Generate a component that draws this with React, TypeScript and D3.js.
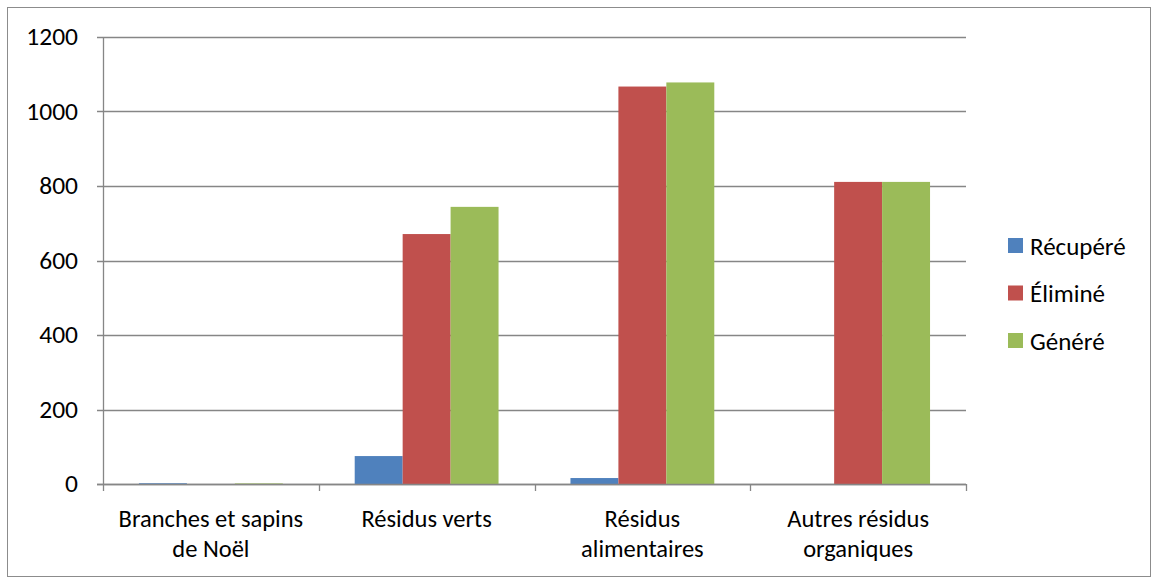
import React from 'react'
import * as d3 from 'd3'

const categories = [['Branches et sapins', 'de Noël'], ['Résidus verts'], ['Résidus', 'alimentaires'], ['Autres résidus', 'organiques']]
const seriesNames = ['Récupéré', 'Éliminé', 'Généré']
const recupere = [2, 75, 16, 0]
const elimine = [0, 671, 1067, 811]
const genere = [1.5, 744, 1078, 811]
const yTicks = [0, 200, 400, 600, 800, 1000, 1200]
const colors = ['#4f81bd', '#c0504d', '#9bbb59']

const W = 1152
const H = 578
const margin = { left: 103, right: 186, top: 37, bottom: 94 }
const font = 'Carlito, Calibri, "Open Sans", "Noto Sans", sans-serif'

export default function App() {
  const series = [recupere, elimine, genere]
  const x = d3.scaleBand<number>()
    .domain(d3.range(categories.length))
    .range([margin.left, W - margin.right])
  // Excel-style 150% gap width between groups
  const inner = d3.scaleBand<number>()
    .domain(d3.range(series.length))
    .range([0, x.bandwidth()])
    .paddingOuter(0.75)
  const y = d3.scaleLinear().domain([0, 1200]).range([H - margin.bottom, margin.top])
  const x0 = margin.left
  const x1 = W - margin.right
  const gridColor = '#868686'

  return (
    <svg width={W} height={H} style={{ position: 'absolute', left: 0, top: 0, background: '#fff' }} fontFamily={font}>
      <rect x={7.5} y={7.5} width={W - 9} height={H - 9} fill="#fff" stroke="#8c8c8c" />
      {yTicks.map(t => (
        <g key={t}>
          <line x1={x0 - 6} x2={x1} y1={Math.round(y(t)) + 0.5} y2={Math.round(y(t)) + 0.5} stroke={gridColor} strokeWidth={1.3} />
          <text x={78} y={y(t)} dy="0.33em" textAnchor="end" fontSize={25.5} fill="#000">{t}</text>
        </g>
      ))}
      {series.map((vals, si) =>
        vals.map((v, ci) => {
          const bx = (x(ci) ?? 0) + (inner(si) ?? 0)
          return (
            <rect key={`${si}-${ci}`} x={bx} y={y(v)} width={inner.bandwidth()} height={y(0) - y(v)} fill={colors[si]} />
          )
        })
      )}
      <line x1={x0 + 0.5} x2={x0 + 0.5} y1={y(1200)} y2={y(0)} stroke={gridColor} strokeWidth={1.3} />
      <line x1={x0 - 6} x2={x1} y1={Math.round(y(0)) + 0.5} y2={Math.round(y(0)) + 0.5} stroke={gridColor} strokeWidth={1.3} />
      {d3.range(categories.length + 1).map(i => {
        const tx = Math.round(x0 + i * x.step()) + 0.5
        return <line key={i} x1={tx} x2={tx} y1={y(0)} y2={y(0) + 7} stroke={gridColor} strokeWidth={1.3} />
      })}
      {categories.map((lines, ci) => (
        <text key={ci} textAnchor="middle" fontSize={24.5} fill="#000">
          {lines.map((l, li) => (
            <tspan key={li} x={(x(ci) ?? 0) + x.bandwidth() / 2} y={527 + li * 30}>{l}</tspan>
          ))}
        </text>
      ))}
      {seriesNames.map((n, i) => (
        <g key={n} transform={`translate(1008, ${238 + i * 47.5})`}>
          <rect x={0} y={0} width={15} height={15} fill={colors[i]} />
          <text x={22} y={8} dy="0.35em" fontSize={25} fill="#000">{n}</text>
        </g>
      ))}
    </svg>
  )
}
